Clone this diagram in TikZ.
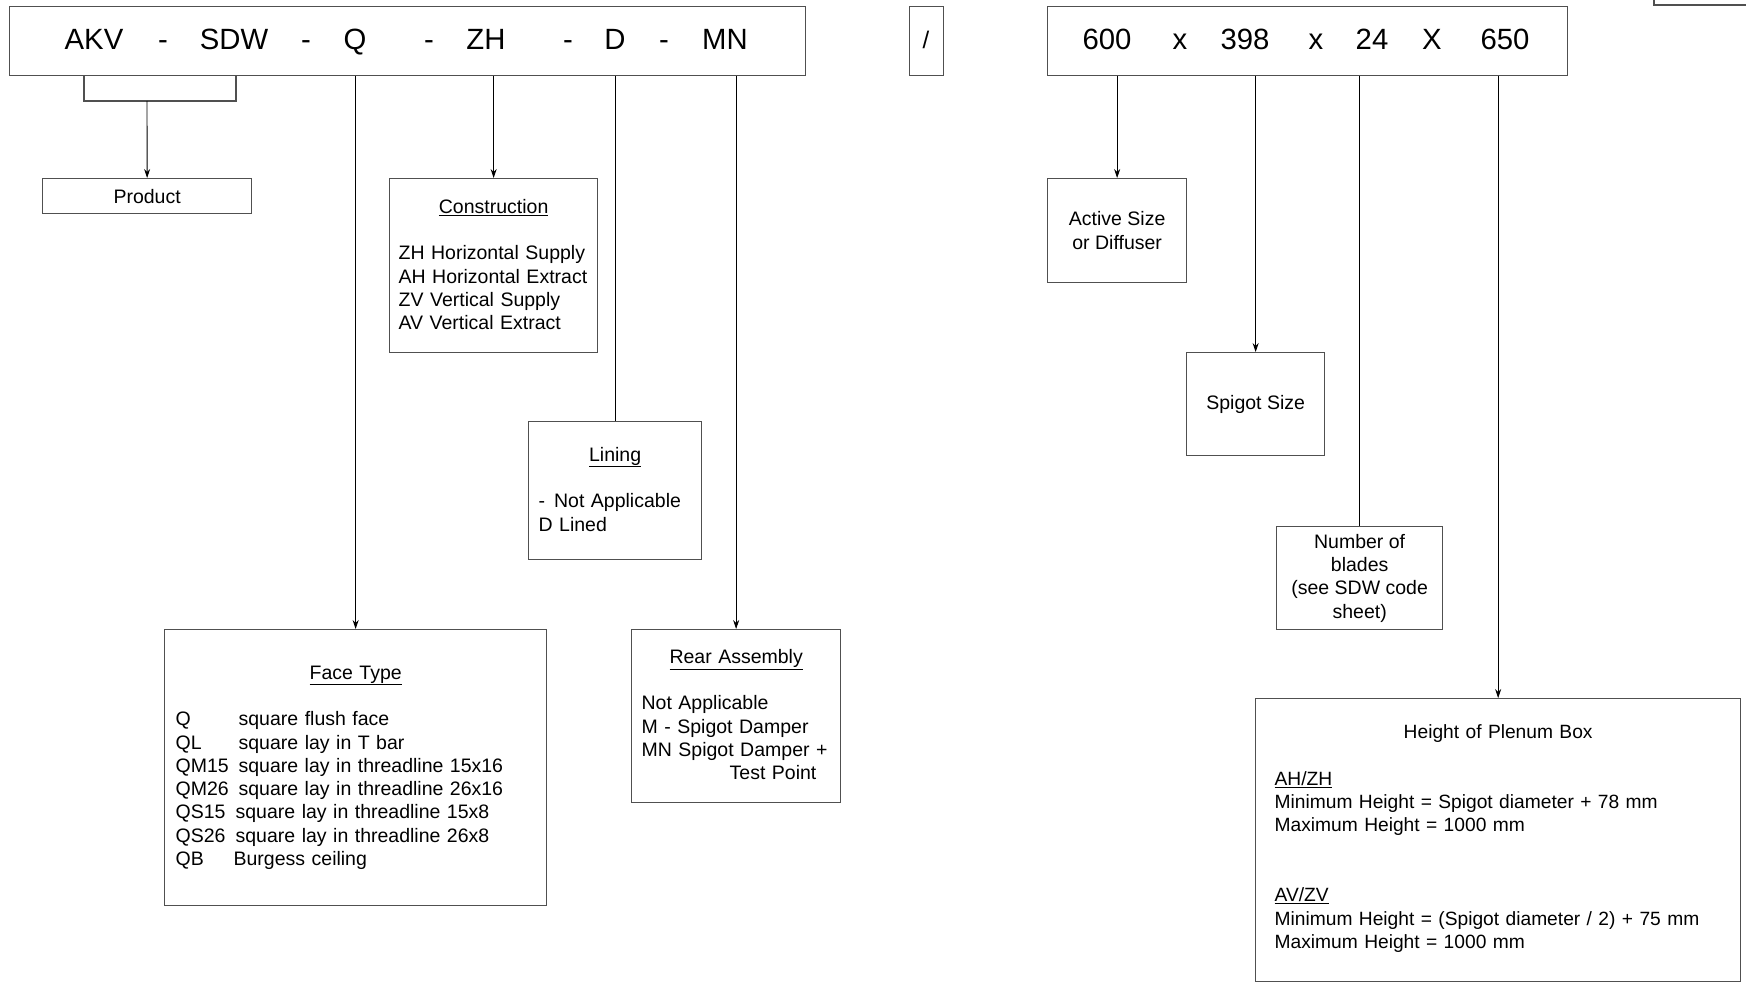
\documentclass[tikz,border=0pt]{standalone}
\usepackage{fontspec}
\setmainfont{Liberation Sans}
\usetikzlibrary{arrows.meta}
\definecolor{boxgray}{HTML}{505050}
\begin{document}
\begin{tikzpicture}[x=1pt,y=-1pt,
  box/.style={draw=boxgray,line width=1.3pt,anchor=north west,inner sep=0pt},
  body/.style={font=\fontsize{19.5}{23.3}\selectfont,inner sep=0pt},
  tok/.style={font=\fontsize{29.3}{34}\selectfont,inner sep=0pt,anchor=base},
  conn/.style={draw=black,line width=0.9pt},
  arr/.style={conn,-{Stealth[length=9pt,width=6pt]}},
  bline/.style={draw=boxgray,line width=1.3pt}]
\useasboundingbox (0,0) rectangle (1746,982);

% code boxes
\node[box,minimum width=796pt,minimum height=69pt] (code) at (9,6) {};
\node[box,minimum width=34pt,minimum height=69pt] (slashbox) at (909,6) {};
\node[box,minimum width=520pt,minimum height=69pt] (dims) at (1047,6) {};
\draw[bline] (1654,0) -- (1654,5) -- (1746,5);

% tokens
\node[tok] (akv) at (94,49.5) {AKV};
\node[tok] (d1) at (163,49.5) {-};
\node[tok] (sdw) at (234,49.5) {SDW};
\node[tok] (d2) at (306,49.5) {-};
\node[tok] (q) at (355,49.5) {Q};
\node[tok] (d3) at (429,49.5) {-};
\node[tok] (zh) at (486,49.5) {ZH};
\node[tok] (d4) at (568,49.5) {-};
\node[tok] (dd) at (615,49.5) {D};
\node[tok] (d5) at (664,49.5) {-};
\node[tok] (mn) at (725,49.5) {MN};
\node[font=\fontsize{24}{28}\selectfont,inner sep=0pt] (slash) at (926,40) {/};
\node[tok] (n600) at (1107,49.5) {600};
\node[tok] (x1) at (1180,49.5) {x};
\node[tok] (n398) at (1245,49.5) {398};
\node[tok] (x2) at (1316,49.5) {x};
\node[tok] (n24) at (1372,49.5) {24};
\node[tok] (x3) at (1432,49.5) {X};
\node[tok] (n650) at (1505,49.5) {650};

% description boxes
\node[box,minimum width=209pt,minimum height=35pt] (product) at (42,178) {};
\node[body] (producttxt) at (product.center) {Product};

\node[box,minimum width=208pt,minimum height=174pt] (constr) at (389,178) {};
\node[body,text width=190pt,align=left,yshift=1pt] (constrtxt) at (constr.center)
  {\makebox[\hsize]{\underline{Construction}}\\[23.3pt]
   \mbox{ZH Horizontal Supply}\\ \mbox{AH Horizontal Extract}\\ \mbox{ZV Vertical Supply}\\ \mbox{AV Vertical Extract}};

\node[box,minimum width=173pt,minimum height=138pt] (lining) at (528,421) {};
\node[body,text width=153pt,align=left,yshift=1.5pt] (liningtxt) at (lining.center)
  {\makebox[\hsize]{\underline{Lining}}\\[23.3pt]
   -\hspace{9pt}Not Applicable\\ D Lined};

\node[box,minimum width=382pt,minimum height=276pt] (face) at (164,629) {};
\node[body,text width=360pt,align=left] (facetxt) at (face.center)
  {\makebox[\hsize]{\underline{Face Type}}\\[23.3pt]
   \makebox[63pt][l]{Q}square flush face\\
   \makebox[63pt][l]{QL}square lay in T bar\\
   \makebox[63pt][l]{QM15}square lay in threadline 15x16\\
   \makebox[63pt][l]{QM26}square lay in threadline 26x16\\
   \makebox[60pt][l]{QS15}square lay in threadline 15x8\\
   \makebox[60pt][l]{QS26}square lay in threadline 26x8\\
   \makebox[58pt][l]{QB}Burgess ceiling};

\node[box,minimum width=209pt,minimum height=173pt] (rear) at (631,629) {};
\node[body,text width=189pt,align=left,yshift=1.5pt] (reartxt) at (rear.center)
  {\makebox[\hsize]{\underline{Rear Assembly}}\\[23.3pt]
   Not Applicable\\ M - Spigot Damper\\ \mbox{MN Spigot Damper +}\\ \hspace*{88pt}Test Point};

\node[box,minimum width=139pt,minimum height=104pt] (active) at (1047,178) {};
\node[body,align=center] (activetxt) at (active.center) {Active Size\\or Diffuser};

\node[box,minimum width=138pt,minimum height=103pt] (spigot) at (1186,352) {};
\node[body] (spigottxt) at (spigot.center) {Spigot Size};

\node[box,minimum width=166pt,minimum height=103pt] (blades) at (1276,526) {};
\node[body,align=center] (bladestxt) at (blades.center) {Number of\\blades\\(see SDW code\\sheet)};

\node[box,minimum width=485pt,minimum height=283pt] (plenum) at (1255,698) {};
\node[body,text width=447pt,align=left,yshift=1.5pt,font=\fontsize{19.2}{23.3}\selectfont] (plenumtxt) at (plenum.center)
  {\makebox[\hsize]{Height of Plenum Box}\\[23.3pt]
   \underline{AH/ZH}\\
   Minimum Height = Spigot diameter + 78 mm\\
   Maximum Height = 1000 mm\\[46.6pt]
   \underline{AV/ZV}\\
   Minimum Height = (Spigot diameter / 2) + 75 mm\\
   Maximum Height = 1000 mm};

% connectors
\coordinate (bL) at (84,101);
\coordinate (bR) at (236,101);
\coordinate (bS) at (147,101);
\draw[bline] (code.south -| bL) -- (bL) -- (bR) -- (code.south -| bR);
\draw[arr] (bS) -- (product.north);
\draw[arr] (code.south -| face.north) -- (face.north);
\draw[arr] (code.south -| constr.north) -- (constr.north);
\draw[conn] (code.south -| lining.north) -- (lining.north);
\draw[arr] (code.south -| rear.north) -- (rear.north);
\draw[arr] (dims.south -| active.north) -- (active.north);
\draw[arr] (dims.south -| spigot.north) -- (spigot.north);
\draw[conn] (dims.south -| blades.north) -- (blades.north);
\draw[arr] (dims.south -| plenum.north) -- (plenum.north);
\end{tikzpicture}
\end{document}
